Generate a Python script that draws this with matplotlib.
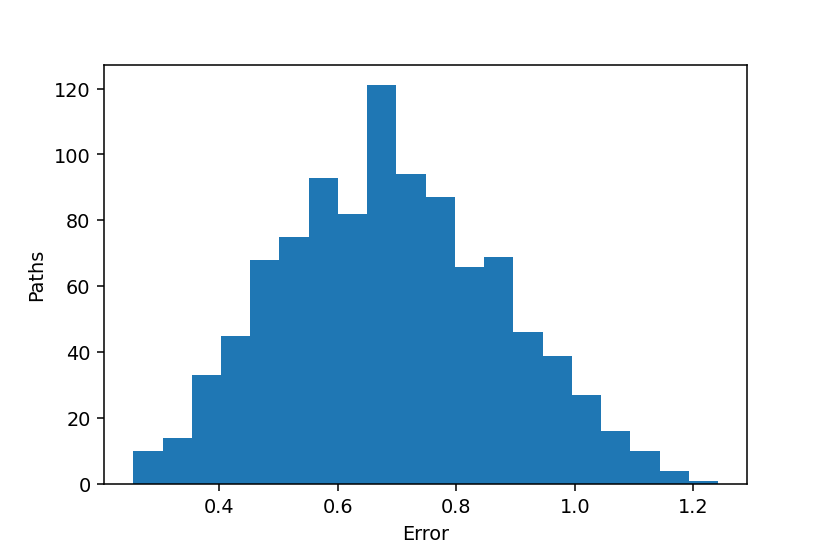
import matplotlib
matplotlib.use("Agg")
import matplotlib.pyplot as plt
import numpy as np

bin_start = 0.255
bin_end = 1.242
n_bins = 20
counts = [10, 14, 33, 45, 68, 75, 93, 82, 121, 94, 87, 66, 69, 46, 39, 27, 16, 10, 4, 1]
x_label = "Error"
y_label = "Paths"

edges = np.linspace(bin_start, bin_end, n_bins + 1)

fig = plt.figure(figsize=(6, 4), dpi=138.4)
ax = fig.add_subplot(111)
fig.subplots_adjust(left=0.1253, right=0.9, top=0.881, bottom=0.1245)
ax.hist(edges[:-1], bins=edges, weights=counts, color="#1f77b4")
ax.set_xlabel(x_label)
ax.set_ylabel(y_label)
fig.savefig("out.png", dpi=138.4)
